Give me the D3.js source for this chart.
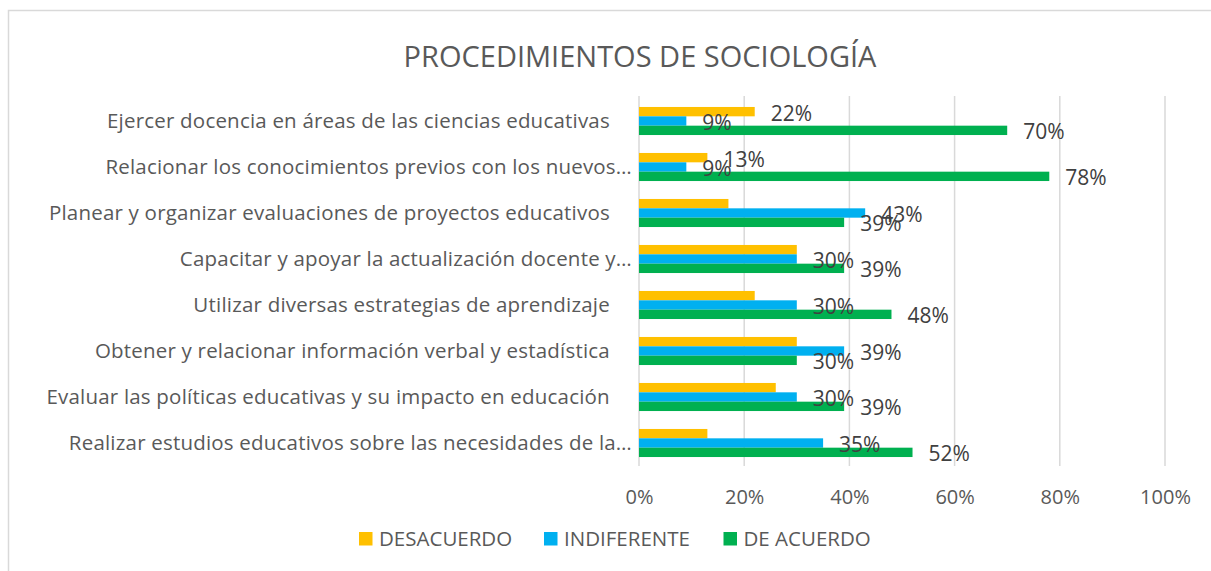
<!DOCTYPE html>
<html>
<head>
<meta charset="utf-8">
<script src="https://cdn.jsdelivr.net/npm/d3@7"></script>
<style>
  body { margin: 0; background: #fff; }
  text { font-family: "Open Sans", sans-serif; }
</style>
</head>
<body>
<div id="chart"></div>
<script>
// categories, top to bottom as shown
var categories = [
  "Ejercer docencia en áreas de las ciencias educativas    ",
  "Relacionar los conocimientos previos con los nuevos…",
  "Planear y organizar evaluaciones de proyectos educativos    ",
  "Capacitar y apoyar la actualización docente y…",
  "Utilizar diversas estrategias de aprendizaje    ",
  "Obtener y relacionar información verbal y estadística    ",
  "Evaluar las políticas educativas y su impacto en educación    ",
  "Realizar estudios educativos sobre las necesidades de la…"
];

var seriesNames = ["DESACUERDO", "INDIFERENTE", "DE ACUERDO"];
var seriesColors = ["#FFC000", "#00B0F0", "#00B050"];

var desacuerdo  = [22, 13, 17, 30, 22, 30, 26, 13];
var indiferente = [9, 9, 43, 30, 30, 39, 30, 35];
var deAcuerdo   = [70, 78, 39, 39, 48, 30, 39, 52];

// which data labels are visible in the original (overlapping ones were dropped)
var showDesacuerdo  = [true, true, false, false, false, false, false, false];
var showIndiferente = [true, true, true, true, true, true, true, true];
var showDeAcuerdo   = [true, true, true, true, true, true, true, true];

var xTicks = [0, 20, 40, 60, 80, 100];

var values = [desacuerdo, indiferente, deAcuerdo];
var shown = [showDesacuerdo, showIndiferente, showDeAcuerdo];

var width = 1211, height = 571;
var margin = {top: 98, right: 46, bottom: 105, left: 639};

var svg = d3.select("#chart").append("svg")
    .attr("width", width)
    .attr("height", height);

// chart frame
svg.append("rect")
    .attr("x", 8.5).attr("y", 10.5)
    .attr("width", width + 20).attr("height", height + 20)
    .attr("fill", "none")
    .attr("stroke", "#d9d9d9")
    .attr("stroke-width", 1.5);

svg.append("text")
    .attr("x", 640).attr("y", 67)
    .attr("text-anchor", "middle")
    .attr("fill", "#595959")
    .style("font-size", "29px")
    .text("PROCEDIMIENTOS DE SOCIOLOGÍA");

var x = d3.scaleLinear()
    .domain([0, 100])
    .range([margin.left, width - margin.right]);

var y = d3.scaleBand()
    .domain(categories)
    .range([margin.top, height - margin.bottom])
    .paddingInner(0.39)
    .paddingOuter(0.195);

var ySub = d3.scaleBand()
    .domain(d3.range(seriesNames.length))
    .range([0, y.bandwidth()]);

// gridlines
svg.append("g")
    .selectAll("line")
    .data(xTicks)
    .join("line")
    .attr("x1", function(d) { return x(d); })
    .attr("x2", function(d) { return x(d); })
    .attr("y1", margin.top - 2)
    .attr("y2", height - margin.bottom)
    .attr("stroke", "#d9d9d9")
    .attr("stroke-width", 1.5);

// x axis labels
var xAxis = d3.axisBottom(x)
    .tickValues(xTicks)
    .tickSize(0)
    .tickPadding(0)
    .tickFormat(function(d) { return d + "%"; });

var gx = svg.append("g")
    .attr("transform", "translate(0," + 504 + ")")
    .call(xAxis);
gx.select(".domain").remove();
gx.selectAll("text")
    .attr("dy", 0)
    .attr("y", 0)
    .attr("fill", "#595959")
    .style("font-size", "20px")
    .style("font-family", "Open Sans, sans-serif");

// category labels
var yAxis = d3.axisLeft(y).tickSize(0).tickPadding(0);
var gy = svg.append("g")
    .attr("transform", "translate(" + 632 + ",0)")
    .call(yAxis);
gy.select(".domain").remove();
gy.selectAll("text")
    .attr("fill", "#595959")
    .attr("dy", "0.36em")
    .style("font-size", "20.5px")
    .style("letter-spacing", "0.2px")
    .style("white-space", "pre")
    .style("font-family", "Open Sans, sans-serif");

// bars
var groups = svg.append("g")
    .selectAll("g")
    .data(categories)
    .join("g")
    .attr("transform", function(d) { return "translate(0," + y(d) + ")"; });

groups.each(function(cat, ci) {
    var g = d3.select(this);
    var rows = seriesNames.map(function(name, si) {
        return {s: si, v: values[si][ci], show: shown[si][ci]};
    });

    g.selectAll("rect")
        .data(rows)
        .join("rect")
        .attr("x", x(0))
        .attr("y", function(d) { return ySub(d.s); })
        .attr("width", function(d) { return x(d.v) - x(0); })
        .attr("height", ySub.bandwidth())
        .attr("fill", function(d) { return seriesColors[d.s]; });

    g.selectAll("text")
        .data(rows.filter(function(d) { return d.show; }))
        .join("text")
        .attr("x", function(d) { return x(d.v) + 16; })
        .attr("y", function(d) { return ySub(d.s) + ySub.bandwidth() / 2 + 1.5; })
        .attr("dy", "0.36em")
        .attr("fill", "#404040")
        .style("font-size", "21px")
        .text(function(d) { return d.v + "%"; });
});

// legend
var legendX = [359, 544, 723.5];
var legend = svg.append("g")
    .selectAll("g")
    .data(seriesNames)
    .join("g")
    .attr("transform", function(d, i) { return "translate(" + legendX[i] + ",532)"; });

legend.append("rect")
    .attr("width", 13.5).attr("height", 13.5)
    .attr("fill", function(d, i) { return seriesColors[i]; });

legend.append("text")
    .attr("x", 20)
    .attr("y", 7)
    .attr("dy", "0.36em")
    .attr("fill", "#595959")
    .style("font-size", "20.5px")
    .text(function(d) { return d; });
</script>
</body>
</html>
